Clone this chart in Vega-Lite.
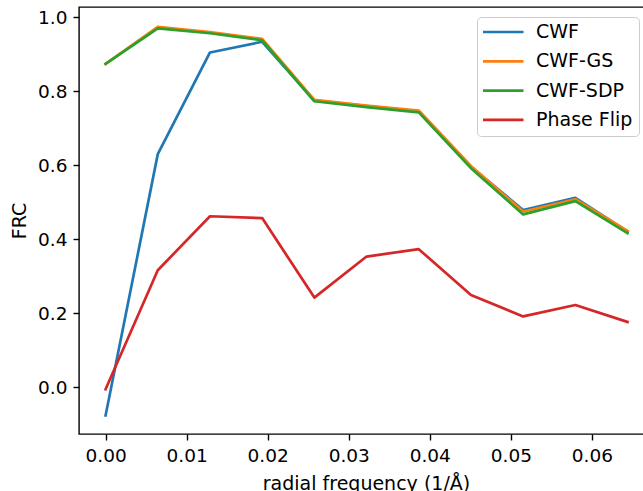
{
  "$schema": "https://vega.github.io/schema/vega-lite/v6.json",
  "autosize": "none",
  "padding": {"left": 79, "top": 7, "right": 0, "bottom": 57},
  "width": 566,
  "height": 427,
  "config": {
    "view": {"stroke": "black", "strokeWidth": 1.4},
    "font": "DejaVu Sans",
    "axis": {
      "domain": false,
      "grid": false,
      "tickColor": "black",
      "tickWidth": 1.4,
      "tickSize": 6,
      "labelColor": "black",
      "labelFont": "DejaVu Sans",
      "labelFontSize": 18.5,
      "labelPadding": 6,
      "titleFont": "DejaVu Sans",
      "titleFontSize": 19,
      "titleFontWeight": "normal",
      "titleColor": "black"
    }
  },
  "data": {
    "values": [
      {"f": 0.0, "frc": -0.077, "s": "CWF"},
      {"f": 0.00644, "frc": 0.630, "s": "CWF"},
      {"f": 0.01288, "frc": 0.905, "s": "CWF"},
      {"f": 0.01932, "frc": 0.934, "s": "CWF"},
      {"f": 0.02576, "frc": 0.775, "s": "CWF"},
      {"f": 0.0322, "frc": 0.760, "s": "CWF"},
      {"f": 0.03864, "frc": 0.746, "s": "CWF"},
      {"f": 0.04508, "frc": 0.596, "s": "CWF"},
      {"f": 0.05152, "frc": 0.479, "s": "CWF"},
      {"f": 0.05796, "frc": 0.512, "s": "CWF"},
      {"f": 0.0644, "frc": 0.421, "s": "CWF"},
      {"f": 0.0, "frc": 0.874, "s": "CWF-GS"},
      {"f": 0.00644, "frc": 0.974, "s": "CWF-GS"},
      {"f": 0.01288, "frc": 0.960, "s": "CWF-GS"},
      {"f": 0.01932, "frc": 0.942, "s": "CWF-GS"},
      {"f": 0.02576, "frc": 0.777, "s": "CWF-GS"},
      {"f": 0.0322, "frc": 0.761, "s": "CWF-GS"},
      {"f": 0.03864, "frc": 0.748, "s": "CWF-GS"},
      {"f": 0.04508, "frc": 0.598, "s": "CWF-GS"},
      {"f": 0.05152, "frc": 0.475, "s": "CWF-GS"},
      {"f": 0.05796, "frc": 0.508, "s": "CWF-GS"},
      {"f": 0.0644, "frc": 0.422, "s": "CWF-GS"},
      {"f": 0.0, "frc": 0.874, "s": "CWF-SDP"},
      {"f": 0.00644, "frc": 0.970, "s": "CWF-SDP"},
      {"f": 0.01288, "frc": 0.957, "s": "CWF-SDP"},
      {"f": 0.01932, "frc": 0.938, "s": "CWF-SDP"},
      {"f": 0.02576, "frc": 0.773, "s": "CWF-SDP"},
      {"f": 0.0322, "frc": 0.757, "s": "CWF-SDP"},
      {"f": 0.03864, "frc": 0.743, "s": "CWF-SDP"},
      {"f": 0.04508, "frc": 0.592, "s": "CWF-SDP"},
      {"f": 0.05152, "frc": 0.467, "s": "CWF-SDP"},
      {"f": 0.05796, "frc": 0.503, "s": "CWF-SDP"},
      {"f": 0.0644, "frc": 0.416, "s": "CWF-SDP"},
      {"f": 0.0, "frc": -0.006, "s": "Phase Flip"},
      {"f": 0.00644, "frc": 0.316, "s": "Phase Flip"},
      {"f": 0.01288, "frc": 0.462, "s": "Phase Flip"},
      {"f": 0.01932, "frc": 0.457, "s": "Phase Flip"},
      {"f": 0.02576, "frc": 0.242, "s": "Phase Flip"},
      {"f": 0.0322, "frc": 0.353, "s": "Phase Flip"},
      {"f": 0.03864, "frc": 0.373, "s": "Phase Flip"},
      {"f": 0.04508, "frc": 0.249, "s": "Phase Flip"},
      {"f": 0.05152, "frc": 0.191, "s": "Phase Flip"},
      {"f": 0.05796, "frc": 0.222, "s": "Phase Flip"},
      {"f": 0.0644, "frc": 0.176, "s": "Phase Flip"}
    ]
  },
  "mark": {"type": "line", "strokeWidth": 2.7, "strokeCap": "square", "strokeJoin": "round", "clip": true},
  "encoding": {
    "x": {
      "field": "f",
      "type": "quantitative",
      "scale": {"domain": [-0.00328, 0.066554], "nice": false, "zero": false},
      "axis": {
        "values": [0, 0.01, 0.02, 0.03, 0.04, 0.05, 0.06],
        "format": ".2f",
        "title": "radial frequency (1/Å)",
        "titleX": 287,
        "titleY": 55,
        "titleBaseline": "alphabetic",
        "titleAnchor": "middle"
      }
    },
    "y": {
      "field": "frc",
      "type": "quantitative",
      "scale": {"domain": [-0.127, 1.028], "nice": false, "zero": false},
      "axis": {
        "values": [0, 0.2, 0.4, 0.6, 0.8, 1.0],
        "format": ".1f",
        "title": "FRC",
        "titlePadding": 8
      }
    },
    "color": {
      "field": "s",
      "type": "nominal",
      "scale": {
        "domain": ["CWF", "CWF-GS", "CWF-SDP", "Phase Flip"],
        "range": ["#1f77b4", "#ff7f0e", "#2ca02c", "#d62728"]
      },
      "legend": {
        "title": null,
        "orient": "none",
        "legendX": 398,
        "legendY": 10,
        "symbolType": "stroke",
        "symbolSize": 1764,
        "symbolStrokeWidth": 2.7,
        "symbolOffset": -3,
        "clipHeight": 18,
        "rowPadding": 10.3,
        "labelFontSize": 19,
        "labelFont": "DejaVu Sans",
        "labelColor": "black",
        "labelOffset": 11,
        "padding": 6,
        "cornerRadius": 4,
        "strokeColor": "#cccccc",
        "fillColor": "rgba(255,255,255,0.8)"
      }
    }
  }
}
